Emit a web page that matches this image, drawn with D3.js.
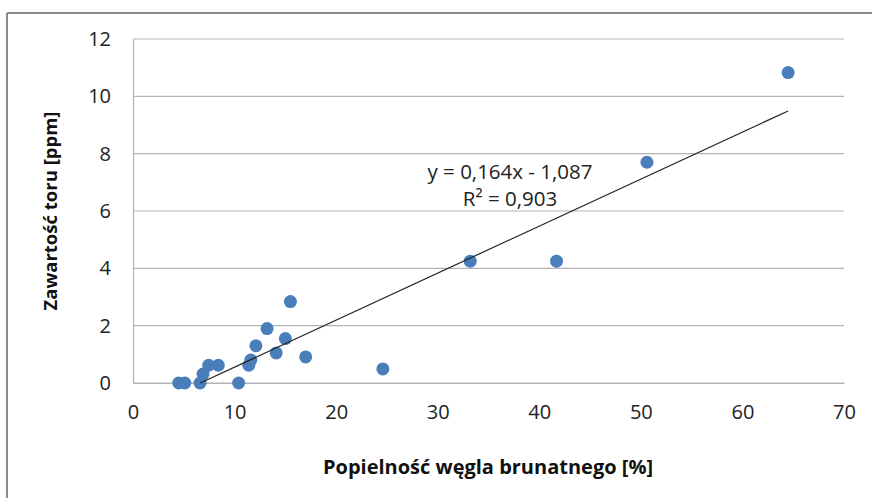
<!DOCTYPE html>
<html>
<head>
<meta charset="utf-8">
<script src="https://cdn.jsdelivr.net/npm/d3@7"></script>
<style>
    body { margin: 0; background: #fff; }
    svg { display: block; font-family: "Open Sans", sans-serif; }
</style>
</head>
<body>
<div id="chart"></div>
<script>
// ash content [%] vs thorium [ppm]
const ashValues = [64.5, 50.6, 33.2, 41.7, 24.6, 15.5, 13.2, 15.0, 12.1, 14.1, 17.0, 11.6, 11.4, 8.4, 7.45, 6.9, 6.6, 4.5, 5.1, 10.4];
const thoriumValues = [10.83, 7.7, 4.25, 4.25, 0.49, 2.84, 1.9, 1.55, 1.3, 1.05, 0.91, 0.8, 0.62, 0.62, 0.62, 0.31, 0.0, 0.0, 0.0, 0.0];
const xTicks = [0, 10, 20, 30, 40, 50, 60, 70];
const yTicks = [0, 2, 4, 6, 8, 10, 12];
const trendSlope = 0.164;
const trendIntercept = -1.087;
const equationLines = ["y = 0,164x - 1,087", "R² = 0,903"];

const points = ashValues.map((a, i) => ({ x: a, y: thoriumValues[i] }));

const W = 872, H = 498;
const margin = { top: 39, right: 28, bottom: 115, left: 133 };
const width = W - margin.left - margin.right,
      height = H - margin.top - margin.bottom;

const svg = d3.select("#chart").append("svg")
    .attr("width", W)
    .attr("height", H);

// outer chart frame (only top and left visible)
svg.append("line").attr("x1", 7).attr("x2", W).attr("y1", 13).attr("y2", 13)
    .attr("stroke", "#8c8c8c").attr("stroke-width", 2);
svg.append("line").attr("x1", 7).attr("x2", 7).attr("y1", 13).attr("y2", H)
    .attr("stroke", "#8c8c8c").attr("stroke-width", 2);

const g = svg.append("g")
    .attr("transform", `translate(${margin.left},${margin.top})`);

const x = d3.scaleLinear().domain([0, 70]).range([0, width]);
const y = d3.scaleLinear().domain([0, 12]).range([height, 0]);

// horizontal gridlines
g.append("g")
    .selectAll("line")
    .data(yTicks)
    .join("line")
    .attr("x1", 0).attr("x2", width)
    .attr("y1", d => y(d)).attr("y2", d => y(d))
    .attr("stroke", "#b3b3b3")
    .attr("stroke-width", 1.2);

// y axis
const yAxis = g.append("g")
    .call(d3.axisLeft(y).tickValues(yTicks).tickSize(0).tickPadding(22).tickFormat(d3.format("d")));
yAxis.select(".domain").attr("stroke", "#b3b3b3").attr("stroke-width", 1.2);
yAxis.selectAll("text").attr("font-size", 20).attr("fill", "#222").attr("font-family", "'Open Sans', sans-serif");

// x axis
const xAxis = g.append("g")
    .attr("transform", `translate(0,${height})`)
    .call(d3.axisBottom(x).tickValues(xTicks).tickSize(0).tickPadding(22).tickFormat(d3.format("d")));
xAxis.select(".domain").attr("stroke", "#b3b3b3").attr("stroke-width", 1.2);
xAxis.selectAll("text").attr("font-size", 20).attr("fill", "#222").attr("font-family", "'Open Sans', sans-serif");

// points
g.append("g")
    .selectAll("circle")
    .data(points)
    .join("circle")
    .attr("cx", d => x(d.x))
    .attr("cy", d => y(d.y))
    .attr("r", 6.5)
    .attr("fill", "#4a7ebb");

// linear trendline, clipped at y = 0
const xMax = d3.max(ashValues);
const xStart = Math.max(d3.min(ashValues), -trendIntercept / trendSlope);
const trend = [xStart, xMax].map(v => ({ x: v, y: trendSlope * v + trendIntercept }));
g.append("path")
    .datum(trend)
    .attr("fill", "none")
    .attr("stroke", "#222")
    .attr("stroke-width", 1.2)
    .attr("d", d3.line().x(d => x(d.x)).y(d => y(d.y)));

// equation label
g.append("text")
    .attr("x", 510 - margin.left)
    .attr("y", 179 - margin.top)
    .attr("text-anchor", "middle")
    .attr("font-size", 20.5)
    .attr("fill", "#222")
    .selectAll("tspan")
    .data(equationLines)
    .join("tspan")
    .attr("x", 510 - margin.left)
    .attr("dy", (d, i) => i === 0 ? 0 : 27)
    .text(d => d);

// axis titles
svg.append("text")
    .attr("x", 488)
    .attr("y", 474)
    .attr("text-anchor", "middle")
    .attr("font-size", 20)
    .attr("font-weight", "bold")
    .attr("fill", "#111")
    .text("Popielność węgla brunatnego [%]");

svg.append("text")
    .attr("transform", "translate(57,211) rotate(-90)")
    .attr("text-anchor", "middle")
    .attr("font-size", 18.5)
    .attr("font-weight", "bold")
    .attr("fill", "#111")
    .text("Zawartość toru [ppm]");
</script>
</body>
</html>
